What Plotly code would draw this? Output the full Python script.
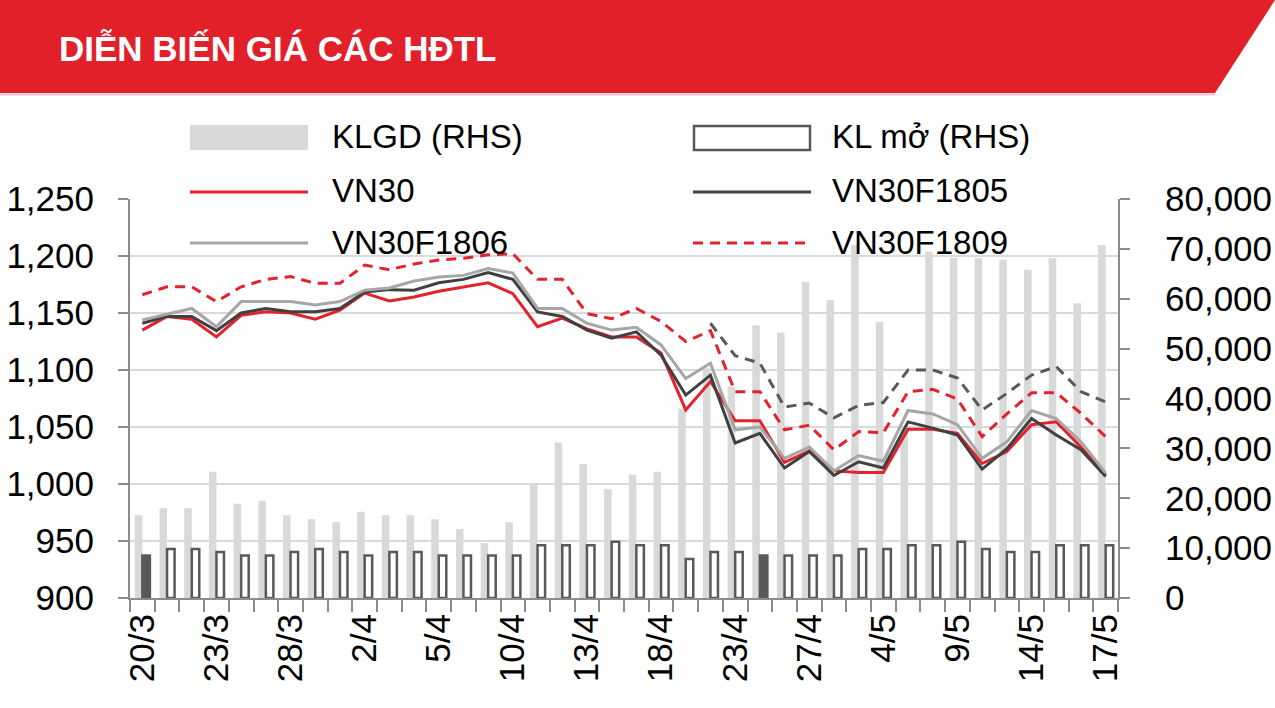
import plotly.graph_objects as go

# ---------------- data ----------------
dates = ["20/3", "21/3", "22/3", "23/3", "26/3", "27/3", "28/3", "29/3", "30/3", "2/4",
         "3/4", "4/4", "5/4", "6/4", "9/4", "10/4", "11/4", "12/4", "13/4", "16/4",
         "17/4", "18/4", "19/4", "20/4", "23/4", "24/4", "26/4", "27/4", "2/5", "3/5",
         "4/5", "7/5", "8/5", "9/5", "10/5", "11/5", "14/5", "15/5", "16/5", "17/5"]
tick_labels = ["20/3", "23/3", "28/3", "2/4", "5/4", "10/4", "13/4", "18/4", "23/4",
               "27/4", "4/5", "9/5", "14/5", "17/5"]

klgd = [16600, 18000, 18000, 25300, 18900, 19500, 16600, 15800, 15200, 17300,
        16600, 16600, 15800, 13800, 11000, 15200, 23000, 31200, 26900, 21800,
        24700, 25300, 38000, 46000, 42400, 54700, 53200, 63400, 59700, 70800,
        55400, 34000, 69400, 68200, 68100, 67800, 65800, 68100, 59100, 70800]
kl_mo = [8500, 9800, 9800, 9200, 8500, 8500, 9200, 9800, 9200, 8500,
         9200, 9200, 8500, 8500, 8500, 8500, 10600, 10600, 10600, 11300,
         10600, 10600, 7800, 9200, 9200, 8500, 8500, 8500, 8500, 9800,
         9800, 10600, 10600, 11300, 9800, 9200, 9200, 10600, 10600, 10600]
vn30 = [1135, 1147, 1144.5, 1129, 1148, 1151, 1150, 1144.5, 1152.5, 1167.5,
        1160.5, 1164, 1169, 1172.5, 1176.5, 1167, 1138, 1145.5, 1136, 1129,
        1129, 1115, 1065, 1090, 1055.5, 1055.5, 1019, 1029, 1011.5, 1010,
        1010, 1048, 1048, 1044.5, 1018, 1028.5, 1052, 1054.5, 1032.5, 1008]
f1805 = [1141, 1147, 1147, 1134.5, 1150, 1154, 1151, 1151, 1154, 1168.5,
         1170.5, 1170, 1176.5, 1179.5, 1185.5, 1179.5, 1151, 1147, 1135, 1128,
         1133.5, 1113, 1078, 1095.5, 1036, 1044.5, 1014, 1028.5, 1007.5, 1019.5,
         1014, 1054.5, 1049, 1043, 1013, 1031, 1057.5, 1043, 1030, 1006.5]
f1806 = [1144, 1149, 1154, 1138, 1160, 1160, 1160, 1157, 1160, 1170,
         1172, 1178, 1181.5, 1183, 1189, 1185, 1154, 1154, 1141, 1135,
         1137.5, 1122, 1092.5, 1106, 1047.5, 1050, 1022.5, 1032.5, 1011.5, 1025,
         1020, 1064.5, 1061.5, 1052, 1022.5, 1037, 1064.5, 1057.5, 1037, 1009.5]
f1809 = [1166, 1173, 1173, 1160, 1173, 1179.5, 1182, 1176, 1176, 1192,
         1188, 1193, 1196.5, 1198, 1201, 1202, 1179.5, 1179.5, 1149.5, 1145,
         1154, 1142.5, 1125, 1134.5, 1081, 1081, 1047.5, 1051.5, 1030, 1046,
         1045, 1081, 1083, 1074.5, 1041.5, 1061.5, 1080, 1080, 1062, 1041.5]
f1812 = [None] * 23 + [1141, 1112.5, 1106, 1067.5, 1071, 1058, 1069,
                       1071.5, 1100, 1100, 1093, 1065, 1079.5, 1095.5, 1103, 1081, 1072]

# ---------------- styling ----------------
RED = "#e3222b"
DARK = "#404040"
LIGHT = "#a6a6a6"
OUTL = "#595959"
BARGRAY = "#d9d9d9"
AXIS = "#8c8c8c"
GRID = "#d9d9d9"
FONT = "Liberation Sans, Arial, sans-serif"
TICK_SIZE = 35

W_FIG, H_FIG = 1275, 708
L, T, R, B = 130, 199, 157, 110
PW, PH = W_FIG - L - R, H_FIG - T - B


def px(x):
    return (x - L) / PW


def py(y):
    return (T + PH - y) / PH


# dark filled open-interest bars (as rendered in the source)
kl_fill = ["white"] * len(kl_mo)
kl_fill[0] = OUTL
kl_fill[25] = OUTL

fig = go.Figure()
fig.add_trace(go.Bar(x=dates, y=klgd, name="KLGD (RHS)", yaxis="y",
                     marker=dict(color=BARGRAY, line=dict(width=0))))
fig.add_trace(go.Bar(x=dates, y=kl_mo, name="KL mở (RHS)", yaxis="y",
                     marker=dict(color=kl_fill, line=dict(color=OUTL, width=2.5))))

line_specs = [
    ("VN30", vn30, RED, "solid"),
    ("VN30F1805", f1805, DARK, "solid"),
    ("VN30F1806", f1806, LIGHT, "solid"),
    ("VN30F1809", f1809, RED, "10px,7px"),
    ("VN30F1812", f1812, OUTL, "10px,7px"),
]
for name, vals, col, dash in line_specs:
    fig.add_trace(go.Scatter(x=dates, y=vals, name=name, yaxis="y2", mode="lines",
                             line=dict(color=col, width=3, dash=dash),
                             connectgaps=False))

ticktext = [d if d in tick_labels else "" for d in dates]

shapes = []
# red banner
shapes.append(dict(type="path", xref="paper", yref="paper",
                   path=f"M {px(0)},{py(0)} L {px(1275)},{py(0)} L {px(1215)},{py(93)} L {px(0)},{py(93)} Z",
                   fillcolor="#e2202a", line=dict(width=0), layer="above"))
shapes.append(dict(type="line", xref="paper", yref="paper",
                   x0=px(0), x1=px(1215), y0=py(94.5), y1=py(94.5),
                   line=dict(color="#f3c6c8", width=2)))

# custom legend swatches
c1, c2 = 190, 693
sw = 118
shapes.append(dict(type="rect", xref="paper", yref="paper",
                   x0=px(c1), x1=px(c1 + sw), y0=py(150), y1=py(125),
                   fillcolor=BARGRAY, line=dict(width=0)))
shapes.append(dict(type="rect", xref="paper", yref="paper",
                   x0=px(c2 + 1), x1=px(c2 + sw - 1), y0=py(150), y1=py(126),
                   fillcolor="white", line=dict(color=OUTL, width=2.5)))
for (x0, y0, col, dash) in [(c1, 192, RED, "solid"), (c2, 192, DARK, "solid"),
                            (c1, 243, LIGHT, "solid"), (c2, 243, RED, "10px,7px")]:
    shapes.append(dict(type="line", xref="paper", yref="paper",
                       x0=px(x0), x1=px(x0 + sw), y0=py(y0), y1=py(y0),
                       line=dict(color=col, width=3, dash=dash)))

annotations = [dict(text="<b>DIỄN BIẾN GIÁ CÁC HĐTL</b>", xref="paper", yref="paper",
                    x=px(57), y=py(49), xanchor="left", yanchor="middle", showarrow=False,
                    font=dict(family=FONT, size=35, color="white"))]
leg_text = [("KLGD (RHS)", 330, 137), ("KL mở (RHS)", 830, 137),
            ("VN30", 330, 190), ("VN30F1805", 830, 190),
            ("VN30F1806", 330, 242), ("VN30F1809", 830, 242)]
for t, x, y in leg_text:
    annotations.append(dict(text=t, xref="paper", yref="paper", x=px(x), y=py(y),
                            xanchor="left", yanchor="middle", showarrow=False,
                            font=dict(family=FONT, size=33, color="black")))

fig.update_layout(
    width=W_FIG, height=H_FIG,
    margin=dict(l=L, r=R, t=T, b=B, pad=0, autoexpand=False),
    paper_bgcolor="white", plot_bgcolor="white",
    showlegend=False,
    barmode="group", bargap=0.39, bargroupgap=0,
    font=dict(family=FONT, size=TICK_SIZE, color="black"),
    shapes=shapes, annotations=annotations,
    xaxis=dict(type="category", tickmode="array", tickvals=dates, ticktext=ticktext,
               tickangle=-90, ticks="outside", tickson="boundaries", ticklen=12,
               tickwidth=2, tickcolor=AXIS, showline=True, linecolor=AXIS, linewidth=2,
               showgrid=False, automargin=False,
               tickfont=dict(family=FONT, size=TICK_SIZE, color="black"),
               range=[-0.5, len(dates) - 0.5]),
    yaxis=dict(side="right", range=[0, 80000], dtick=10000, tickformat=",",
               showgrid=False, zeroline=False, showline=True, linecolor=AXIS, linewidth=2,
               ticks="outside", ticklen=10, tickwidth=2, tickcolor=AXIS,
               ticklabelstandoff=28, automargin=False,
               tickfont=dict(family=FONT, size=TICK_SIZE, color="black")),
    yaxis2=dict(side="left", overlaying="y", range=[900, 1250], dtick=50, tickformat=",",
                showgrid=True, gridcolor=GRID, gridwidth=2, zeroline=False,
                showline=True, linecolor=AXIS, linewidth=2,
                ticks="outside", ticklen=10, tickwidth=2, tickcolor=AXIS,
                ticklabelstandoff=17, automargin=False,
                tickfont=dict(family=FONT, size=TICK_SIZE, color="black")),
)

fig.write_html("out.html",
               config={"displayModeBar": False, "staticPlot": True},
               post_script="document.body.style.margin='0px';document.body.style.overflow='hidden';")
